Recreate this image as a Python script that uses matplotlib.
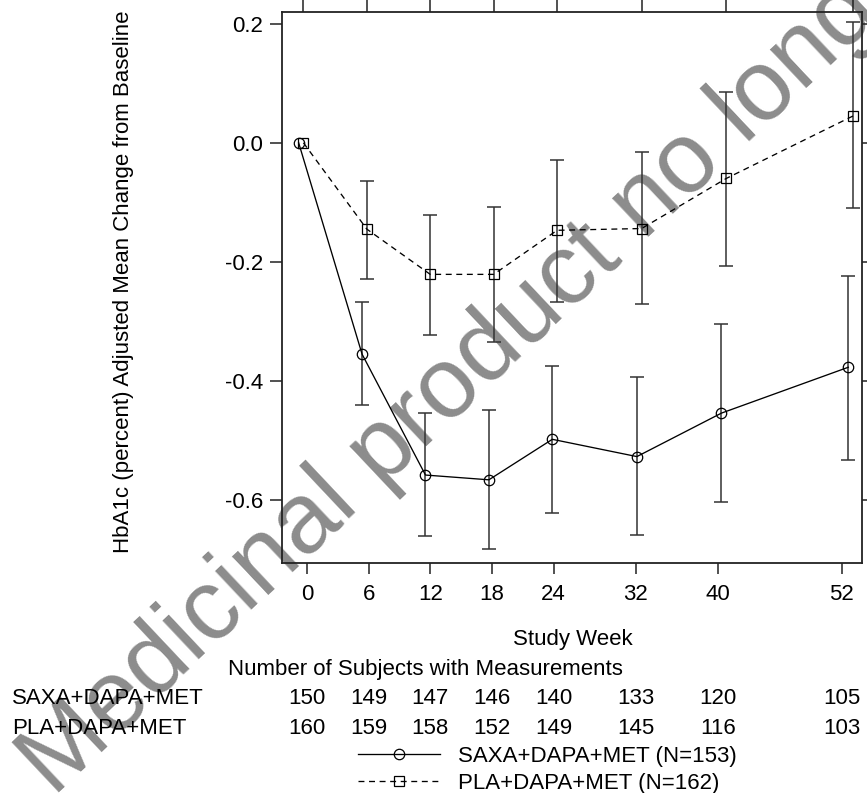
import numpy as np
import matplotlib
matplotlib.use("Agg")
import matplotlib.pyplot as plt
import matplotlib.transforms as mtransforms

plt.rcParams['font.family'] = ['Liberation Sans', 'DejaVu Sans']

# study weeks and adjusted mean change in HbA1c (%), with 95% CI
weeks = [0, 6, 12, 18, 24, 32, 40, 52]
saxa_mean = [0.0, -0.355, -0.558, -0.566, -0.498, -0.527, -0.454, -0.377]
saxa_lo = [np.nan, -0.441, -0.661, -0.683, -0.621, -0.658, -0.603, -0.532]
saxa_hi = [np.nan, -0.268, -0.453, -0.449, -0.375, -0.394, -0.305, -0.224]
pla_mean = [0.0, -0.145, -0.221, -0.221, -0.147, -0.144, -0.060, 0.045]
pla_lo = [np.nan, -0.229, -0.323, -0.335, -0.267, -0.271, -0.207, -0.110]
pla_hi = [np.nan, -0.064, -0.122, -0.108, -0.029, -0.016, 0.085, 0.203]

saxa_n = [150, 149, 147, 146, 140, 133, 120, 105]
pla_n = [160, 159, 158, 152, 149, 145, 116, 103]

saxa_label = "SAXA+DAPA+MET"
pla_label = "PLA+DAPA+MET"
yticks = [0.2, 0.0, -0.2, -0.4, -0.6]
ytick_labels = ["0.2", "0.0", "-0.2", "-0.4", "-0.6"]

W, H = 867, 793
fig = plt.figure(figsize=(W / 100, H / 100), dpi=100)
ax = fig.add_axes([282 / W, 1 - 562.7 / H, 579.7 / W, 551 / H])
ax.set_facecolor('none')

fs = 16
frame_col = '#222222'

# bottom axis (labelled weeks)
ax.set_xlim(-2.43, 53.96)
ax.set_ylim(-0.7052, 0.2201)
ax.set_xticks(weeks)
ax.set_xticklabels([str(w) for w in weeks])
ax.set_yticks(yticks)
ax.set_yticklabels(ytick_labels)
ax.tick_params(axis='x', bottom=True, top=False, direction='out', length=8,
               width=1.1, color=frame_col, labelsize=fs, pad=7)
ax.tick_params(axis='y', left=True, right=True, direction='out', length=8.5,
               width=1.1, color=frame_col, labelsize=fs, pad=5)
for s in ax.spines.values():
    s.set_linewidth(1.3)
    s.set_color(frame_col)

# data layer sits on the top axis (slightly shifted in the original)
ax2 = ax.twiny()
ax2.set_xlim(-2.025, 52.82)
ax2.set_xticks(weeks)
ax2.tick_params(axis='x', top=True, labeltop=False, direction='out', length=9,
                width=1.1, color=frame_col)
for s in ax2.spines.values():
    s.set_visible(False)

w = np.array(weeks, dtype=float)
dodge = 0.45

def draw(x, mean, lo, hi, marker, ls, ms):
    mean = np.array(mean)
    lo = np.array(lo)
    hi = np.array(hi)
    ax2.errorbar(x[1:], mean[1:], yerr=[mean[1:] - lo[1:], hi[1:] - mean[1:]],
                 fmt='none', ecolor='#333333', elinewidth=1.1, capsize=5.2,
                 capthick=1.1, clip_on=False)
    line, = ax2.plot(x, mean, color='black', lw=0.95, ls=ls, marker=marker,
                     ms=ms, mfc='none', mec='black', mew=0.9, clip_on=False)
    return line

l1 = draw(w - dodge, saxa_mean, saxa_lo, saxa_hi, 'o', '-', 7.5)
l2 = draw(w, pla_mean, pla_lo, pla_hi, 's', (0, (4.5, 3.5)), 7)

# axis titles
fig.text(123 / W, 1 - 281.5 / H, "HbA1c (percent) Adjusted Mean Change from Baseline",
         rotation=90, ha='center', va='center', fontsize=fs)
fig.text(572.5 / W, 1 - 640 / H, "Study Week", ha='center', va='center', fontsize=fs)

# number of subjects table
fig.text(228 / W, 1 - 669 / H, "Number of Subjects with Measurements",
         ha='left', va='center', fontsize=fs)
trans = mtransforms.blended_transform_factory(ax.transData, fig.transFigure)
for lab, counts, yy in [(saxa_label, saxa_n, 698), (pla_label, pla_n, 728)]:
    fig.text(11.7 / W, 1 - yy / H, lab, ha='left', va='center', fontsize=fs)
    for wk, n in zip(weeks, counts):
        ax.text(wk, 1 - yy / H, str(n), transform=trans, ha='center',
                va='center', fontsize=fs, clip_on=False)

leg = ax2.legend([l1, l2], [saxa_label + " (N=153)", pla_label + " (N=162)"],
                 loc='upper left', bbox_to_anchor=(358 / W, 1 - 746 / H),
                 bbox_transform=fig.transFigure, frameon=False, fontsize=fs,
                 handlelength=3.7, handletextpad=0.8, labelspacing=0.28,
                 borderpad=0, borderaxespad=0, numpoints=1)

# watermark
fig.text(54 / W, 1 - 798 / H, "Medicinal product no longer authorised",
         rotation=43.3, rotation_mode='anchor', ha='left', va='baseline',
         fontsize=72, color='#8c8c8c', zorder=-5)

fig.savefig("out.png", dpi=100)
